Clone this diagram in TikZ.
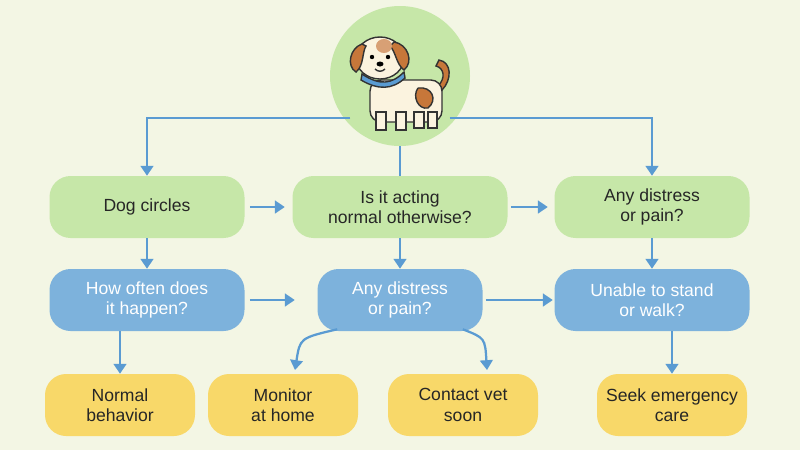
\documentclass[tikz,border=0pt]{standalone}
\usepackage{fontspec}
\setmainfont{Liberation Sans}
\usetikzlibrary{positioning, arrows.meta}

\definecolor{bgcol}{HTML}{F3F6E4}
\definecolor{greenbox}{HTML}{C6E7A8}
\definecolor{bluebox}{HTML}{7DB2DC}
\definecolor{yellowbox}{HTML}{F8D869}
\definecolor{arrowcol}{HTML}{5A9BD2}
\definecolor{furcol}{HTML}{FBF3DF}
\definecolor{spotcol}{HTML}{C7773A}

\tikzset{
  flowbox/.style={rounded corners=15pt, minimum height=62*0.025cm, align=center,
    font=\fontsize{12.5}{14.5}\selectfont},
  question/.style={flowbox, fill=greenbox, text=black!85, minimum width=195*0.025cm},
  check/.style={flowbox, fill=bluebox, text=white, minimum width=195*0.025cm},
  advice/.style={flowbox, fill=yellowbox, text=black!85, minimum width=150*0.025cm},
  flow/.style={draw=arrowcol, line width=1.6pt, -{Triangle[length=7pt,width=9pt]}},
}

\begin{document}
\begin{tikzpicture}[x=0.025cm, y=-0.025cm]
  \fill[bgcol] (0,0) rectangle (800,450);
  \useasboundingbox (0,0) rectangle (800,450);

  % dog badge
  \node (dog) [circle, fill=greenbox, minimum size=140*0.025cm] at (400,76) {};
  \begin{scope}[line width=1pt, draw=black!80]
    \draw[fill=spotcol] (439,60) .. controls (452,62) and (452,80) .. (442,90) -- (438,86) .. controls (446,78) and (444,68) .. (436,66) -- cycle;
    \draw[fill=furcol, rounded corners=8pt] (370,80) rectangle (442,122);
    \draw[fill=spotcol] (418,88) .. controls (432,86) and (438,100) .. (428,108) .. controls (418,110) and (412,96) .. (418,88);
    \draw[fill=furcol] (376,112) rectangle (386,130) (396,112) rectangle (406,130) (414,112) rectangle (424,128) (428,112) rectangle (437,128);
    \draw[fill=arrowcol] (362,74) .. controls (380,86) and (392,84) .. (404,72) -- (405,78) .. controls (392,90) and (378,90) .. (361,80) -- cycle;
    \draw[fill=furcol] (380,58) circle [x radius=24, y radius=21];
    \draw[fill=spotcol] (362,44) .. controls (350,48) and (346,66) .. (356,72) .. controls (364,66) and (362,52) .. (366,46) -- cycle;
    \draw[fill=spotcol] (394,42) .. controls (408,44) and (414,62) .. (404,70) .. controls (396,64) and (396,52) .. (390,46) -- cycle;
    \fill[spotcol!70] (384,46) circle [x radius=8, y radius=7];
    \fill[black] (372,57) circle (2.2) (388,57) circle (2.2) (380,64) circle [x radius=3.5, y radius=2.5];
    \draw (375,69) .. controls (378,72) and (382,72) .. (385,69);
  \end{scope}

  % first row
  \node (circles) [question] at (147,207) {Dog circles};
  \node (normal) [question, minimum width=215*0.025cm] at (400,207) {Is it acting\\normal otherwise?};
  \node (distressA) [question] at (652,207) {Any distress\\or pain?};

  % second row
  \node (often) [check] at (147,300) {How often does\\it happen?};
  \node (distressB) [check, minimum width=165*0.025cm] at (400,300) {Any distress\\or pain?};
  \node (stand) [check] at (652,300) {Unable to stand\\or walk?};

  % outcomes
  \node (behave) [advice] at (120,405) {Normal\\behavior};
  \node (monitor) [advice] at (283,405) {Monitor\\at home};
  \node (vet) [advice] at (463,405) {Contact vet\\soon};
  \node (care) [advice] at (672,405) {Seek emergency\\care};

  \coordinate (split) at (400,118);
  \draw[flow] (dog.south west |- split) -- (147,118) -- (circles.north);
  \draw[flow] (dog.south east |- split) -- (652,118) -- (distressA.north);
  \draw[draw=arrowcol, line width=1.6pt] (dog.south) -- (normal.north);

  \draw[flow] (circles.east) ++(5,0) -- +(35,0);
  \draw[flow] (normal.east) ++(3,0) -- +(37,0);
  \draw[flow] (circles.south) -- (often.north);
  \draw[flow] (normal.south) -- (distressB.north);
  \draw[flow] (distressA.south) -- (stand.north);

  \draw[flow] (often.east) ++(5,0) -- +(45,0);
  \draw[flow] (distressB.east) ++(3,0) -- +(67,0);

  \draw[flow] (behave.north |- often.south) -- (behave.north);
  \draw[flow] (care.north |- stand.south) -- (care.north);
  \draw[flow] (distressB.south west) ++(20,-2) .. controls (300,338) .. (295,370);
  \draw[flow] (distressB.south east) ++(-20,-2) .. controls (485,338) .. (487,370);
\end{tikzpicture}
\end{document}
